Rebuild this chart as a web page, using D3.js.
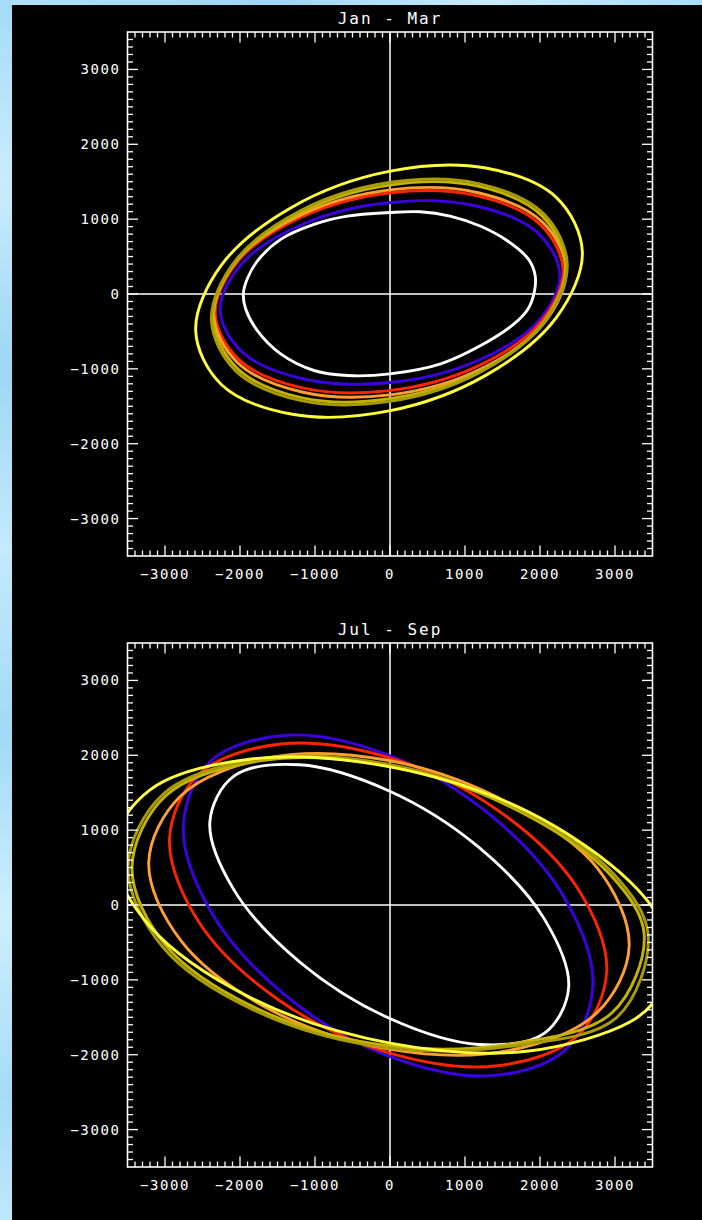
<!DOCTYPE html>
<html lang="en">
<head>
<meta charset="utf-8">
<title>Jan - Mar / Jul - Sep</title>
<script src="https://cdnjs.cloudflare.com/ajax/libs/d3/7.8.5/d3.min.js"></script>
<style>
    body { margin: 0; background: #000; }
    svg { display: block; }
    .lab { font-family: "DejaVu Sans Mono", monospace; fill: #fff; }
</style>
</head>
<body>
<div id="chart"></div>
<script>
'use strict';

// ---- data (data units) ----
const panelTitles = ["Jan - Mar", "Jul - Sep"];
const axisDomain = [-3500, 3500];
const majorTicks = [-3000, -2000, -1000, 0, 1000, 2000, 3000];
const curveColors = ["#ffffff", "#3c00e4", "#ff2400", "#ffa030", "#c4b400", "#a89c00", "#ffff3c"];

// Jan - Mar contours
const janMarWhite = [[-1956,0],[-1900,210],[-1769,440],[-1458,730],[-1013,930],[-569,1040],[0,1088],[400,1098],[800,1040],[1209,905],[1564,711],[1850,460],[1935,250],[1925,30],[1840,-200],[1653,-400],[1209,-689],[676,-933],[0,-1067],[-569,-1089],[-1013,-1022],[-1458,-800],[-1769,-489],[-1924,-200]];
const janMarBlue = [[2265,254],[1962,824],[1133,1179],[0,1223],[-1133,945],[-1962,419],[-2265,-214],[-1962,-784],[-1133,-1139],[0,-1183],[1133,-905],[1962,-379]];
const janMarRed = [[2310,311],[1999,933],[1150,1314],[-10,1350],[-1170,1033],[-2019,447],[-2330,-251],[-2019,-873],[-1170,-1254],[-10,-1290],[1150,-973],[1999,-387]];
const janMarOrange = [[2350,313],[2035,959],[1175,1353],[0,1391],[-1175,1062],[-2035,455],[-2350,-269],[-2035,-915],[-1175,-1309],[0,-1347],[1175,-1018],[2035,-411]];
const janMarGold = [[2340,370],[2030,1040],[1170,1440],[-5,1455],[-1185,1090],[-2045,445],[-2360,-320],[-2045,-985],[-1185,-1385],[-5,-1400],[1170,-1040],[2030,-395]];
const janMarOlive = [[2364,392],[2046,1074],[1178,1475],[-9,1489],[-1196,1111],[-2064,443],[-2382,-338],[-2064,-1020],[-1196,-1421],[-9,-1435],[1178,-1057],[2046,-389]];
const janMarYellow = [[2565,558],[2220,1288],[1276,1683],[-13,1638],[-1302,1163],[-2246,388],[-2591,-482],[-2246,-1212],[-1302,-1607],[-13,-1562],[1276,-1087],[2220,-312]];

// Jul - Sep contours
const julSepWhite = [[2382,-1099],[2061,-192],[1186,769],[-10,1523],[-1206,1873],[-2081,1721],[-2402,1109],[-2081,202],[-1206,-759],[-10,-1513],[1186,-1863],[2061,-1711]];
const julSepBlue = [[2705,-1073],[2339,74],[1340,1200],[-25,2004],[-1390,2268],[-2389,1924],[-2755,1061],[-2389,-86],[-1390,-1212],[-25,-2016],[1340,-2280],[2339,-1936]];
const julSepRed = [[2890,-879],[2499,227],[1433,1269],[-25,1973],[-1483,2148],[-2549,1747],[-2940,879],[-2549,-227],[-1483,-1269],[-25,-1973],[1433,-2148],[2499,-1747]];
const julSepOrange = [[3189,-545],[2760,499],[1588,1360],[-14,1930],[-1616,1966],[-2788,1460],[-3217,567],[-2788,-477],[-1616,-1389],[-14,-1925],[1588,-1944],[2760,-1438]];
const julSepGold = [[3390,-400],[2940,400],[1690,1270],[-25,1860],[-1740,1925],[-2990,1460],[-3440,500],[-2990,-540],[-1740,-1400],[-25,-1880],[1690,-1845],[2960,-1440]];
const julSepOlive = [[3442,-400],[2977,420],[1709,1290],[-25,1880],[-1759,1950],[-3027,1480],[-3492,500],[-3027,-565],[-1759,-1430],[-25,-1909],[1709,-1873],[3028,-1498]];
const julSepYellow = [[3650,-300],[3204,308],[1850,1242],[0,1845],[-1850,1951],[-3204,1535],[-3700,740],[-3204,-280],[-1850,-1242],[0,-1845],[1850,-1951],[3204,-1560],[3550,-1250],[3720,-800]];

const panelCurves = [
    [janMarWhite, janMarBlue, janMarRed, janMarOrange, janMarGold, janMarOlive, janMarYellow],
    [julSepWhite, julSepBlue, julSepRed, julSepOrange, julSepGold, julSepOlive, julSepYellow]
];

// ---- layout ----
const W = 702, H = 1220;
const frameLeft = 127.5, frameRight = 652.5;
const frameTops = [32, 643], frameHeight = 524;

const svg = d3.select("#chart").append("svg")
    .attr("width", W).attr("height", H);

// sky strip on the left/top edge
const defs = svg.append("defs");
const sky = defs.append("linearGradient").attr("id", "sky")
    .attr("x1", 0).attr("y1", 0).attr("x2", 0).attr("y2", 1);
[["0%", "#a5dbf7"], ["15%", "#c9ecfb"], ["30%", "#9ed6f5"], ["45%", "#c4eafb"],
 ["60%", "#a2d9f6"], ["75%", "#cdeffc"], ["90%", "#a6dbf7"], ["100%", "#bfe7fa"]]
    .forEach(s => sky.append("stop").attr("offset", s[0]).attr("stop-color", s[1]));
const skyTop = defs.append("linearGradient").attr("id", "skyTop");
[["0%", "#b0e0f8"], ["40%", "#9fd6f5"], ["70%", "#c8ecfb"], ["100%", "#a9ddf7"]]
    .forEach(s => skyTop.append("stop").attr("offset", s[0]).attr("stop-color", s[1]));

svg.append("rect").attr("width", W).attr("height", H).attr("fill", "#000");
svg.append("rect").attr("x", 0).attr("y", 0).attr("width", W).attr("height", 5).attr("fill", "url(#skyTop)");
svg.append("rect").attr("x", 0).attr("y", 0).attr("width", 12).attr("height", H).attr("fill", "url(#sky)");

const fmt = d3.format("d");
const minorTicks = d3.range(-3500, 3501, 100).filter(v => v % 1000 !== 0 && Math.abs(v) < 3500);

panelTitles.forEach((title, i) => {
    const top = frameTops[i], bottom = top + frameHeight;
    const x = d3.scaleLinear().domain(axisDomain).range([frameLeft, frameRight]);
    const y = d3.scaleLinear().domain(axisDomain).range([bottom, top]);
    const g = svg.append("g");

    defs.append("clipPath").attr("id", "clip" + i)
        .append("rect").attr("x", frameLeft).attr("y", top)
        .attr("width", frameRight - frameLeft).attr("height", frameHeight);

    // zero lines
    g.append("line").attr("x1", frameLeft).attr("x2", frameRight)
        .attr("y1", y(0)).attr("y2", y(0)).attr("stroke", "#fff").attr("stroke-width", 1.5);
    g.append("line").attr("x1", x(0)).attr("x2", x(0))
        .attr("y1", top).attr("y2", bottom).attr("stroke", "#fff").attr("stroke-width", 1.5);

    // contours
    const line = d3.line().x(d => x(d[0])).y(d => y(d[1]))
        .curve(d3.curveCatmullRomClosed.alpha(0.5));
    g.append("g").attr("clip-path", "url(#clip" + i + ")")
        .selectAll("path").data(panelCurves[i]).join("path")
        .attr("d", line)
        .attr("fill", "none")
        .attr("stroke", (d, j) => curveColors[j])
        .attr("stroke-width", 2.9)
        .attr("stroke-linejoin", "round");

    // frame
    g.append("rect").attr("x", frameLeft).attr("y", top)
        .attr("width", frameRight - frameLeft).attr("height", frameHeight)
        .attr("fill", "none").attr("stroke", "#fff").attr("stroke-width", 1.6);

    // ticks on all four sides
    const ticks = g.append("g").attr("stroke", "#fff").attr("stroke-width", 1.3);
    const tickSet = majorTicks.map(v => ({ v, len: 10.5 }))
        .concat(minorTicks.map(v => ({ v, len: 5.5 })));
    tickSet.forEach(t => {
        ticks.append("line").attr("x1", x(t.v)).attr("x2", x(t.v)).attr("y1", bottom).attr("y2", bottom - t.len);
        ticks.append("line").attr("x1", x(t.v)).attr("x2", x(t.v)).attr("y1", top).attr("y2", top + t.len);
        ticks.append("line").attr("y1", y(t.v)).attr("y2", y(t.v)).attr("x1", frameLeft).attr("x2", frameLeft + t.len);
        ticks.append("line").attr("y1", y(t.v)).attr("y2", y(t.v)).attr("x1", frameRight).attr("x2", frameRight - t.len);
    });

    // tick labels
    g.selectAll("text.xl").data(majorTicks).join("text")
        .attr("class", "lab xl")
        .attr("x", d => x(d)).attr("y", bottom + 23)
        .attr("text-anchor", "middle")
        .attr("font-size", 14).attr("letter-spacing", 1.6)
        .text(d => fmt(d));
    g.selectAll("text.yl").data(majorTicks).join("text")
        .attr("class", "lab yl")
        .attr("x", frameLeft - 7).attr("y", d => y(d) + 5)
        .attr("text-anchor", "end")
        .attr("font-size", 14).attr("letter-spacing", 1.6)
        .text(d => fmt(d));

    // title
    g.append("text").attr("class", "lab")
        .attr("x", (frameLeft + frameRight) / 2).attr("y", top - 8)
        .attr("text-anchor", "middle")
        .attr("font-size", 16).attr("letter-spacing", 2)
        .text(title);
});
</script>
</body>
</html>
